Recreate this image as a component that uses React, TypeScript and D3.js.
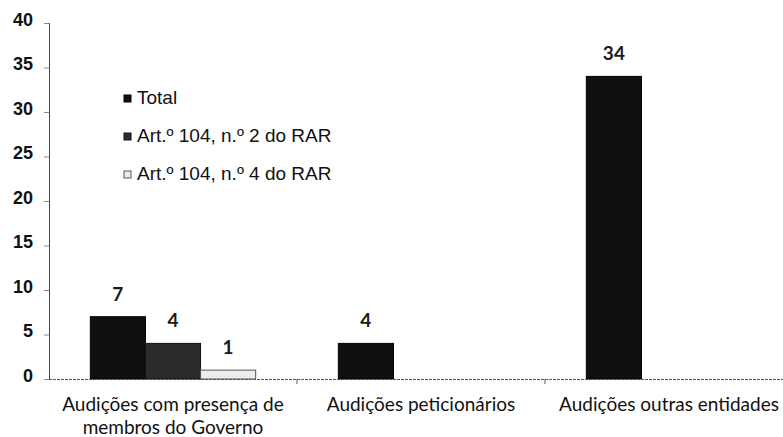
import React from 'react';
import * as d3 from 'd3';

const categories = [
  ['Audições com presença de', 'membros do Governo'],
  ['Audições peticionários'],
  ['Audições outras entidades'],
];
const seriesNames = ['Total', 'Art.º 104, n.º 2 do RAR', 'Art.º 104, n.º 4 do RAR'];
const totalValues = [7, 4, 34];
const art2Values = [4, null, null];
const art4Values = [1, null, null];
const yTicks = [0, 5, 10, 15, 20, 25, 30, 35, 40];

const seriesColors = ['#101010', '#2c2c2c', '#ececec'];
const seriesStrokes = ['#000', '#111', '#555'];

const width = 783;
const height = 437;

const App = () => {
  const catKeys = categories.map((c) => c.join(' '));
  const values = [totalValues, art2Values, art4Values];

  const y = d3.scaleLinear().domain([0, 40]).range([379, 23]);
  const x0 = d3.scaleBand().domain(catKeys).range([49, 793]).paddingInner(1 / 3).paddingOuter(1 / 6);
  const x1 = d3.scaleBand().domain(seriesNames).range([0, x0.bandwidth()]);
  const step = x0.step();

  const bars = [];
  catKeys.forEach((cat, ci) => {
    seriesNames.forEach((s, si) => {
      const v = values[si][ci];
      if (v == null) return;
      bars.push({ cat, s, si, v, x: x0(cat) + x1(s) });
    });
  });

  return (
    <svg width={width} height={height} style={{ position: 'absolute', left: 0, top: 0, background: '#fff' }}>
      {/* y axis */}
      <line x1={49.5} x2={49.5} y1={y(40)} y2={y(0)} stroke="#444" strokeWidth={1} />
      {yTicks.map((t) => (
        <g key={t}>
          <line x1={44} x2={49.5} y1={y(t) + 0.5} y2={y(t) + 0.5} stroke="#888" strokeWidth={1} />
          <text
            x={33}
            y={y(t) - 2}
            textAnchor="end"
            dominantBaseline="middle"
            fontFamily="'Liberation Sans', Arial, sans-serif"
            fontWeight="bold"
            fontSize={18}
            fill="#111"
          >
            {t}
          </text>
        </g>
      ))}

      {/* bars */}
      {bars.map((b) => (
        <g key={b.cat + b.s}>
          <rect
            x={b.x}
            y={y(b.v)}
            width={x1.bandwidth()}
            height={y(0) - y(b.v)}
            fill={seriesColors[b.si]}
            stroke={seriesStrokes[b.si]}
            strokeWidth={1}
          />
          <text
            x={b.x + x1.bandwidth() / 2}
            y={y(b.v) - 16}
            textAnchor="middle"
            fontFamily="Lato, 'Open Sans', sans-serif"
            fontWeight="bold"
            fontSize={19}
            fill="#1a1a1a"
          >
            {b.v}
          </text>
        </g>
      ))}

      {/* x axis */}
      <line x1={49} x2={width} y1={y(0) + 0.5} y2={y(0) + 0.5} stroke="#555" strokeWidth={1} strokeDasharray="3,1" />
      {[1, 2].map((i) => (
        <line key={i} x1={49 + i * step} x2={49 + i * step} y1={y(0)} y2={y(0) + 5} stroke="#555" />
      ))}
      {categories.map((lines, ci) => (
        <text
          key={ci}
          textAnchor="middle"
          fontFamily="Lato, 'Open Sans', sans-serif"
          fontSize={19}
          fill="#111"
        >
          {lines.map((l, li) => (
            <tspan key={li} x={x0(catKeys[ci]) + x0.bandwidth() / 2} y={411 + li * 23}>
              {l}
            </tspan>
          ))}
        </text>
      ))}

      {/* legend */}
      {seriesNames.map((s, i) => (
        <g key={s} transform={`translate(124, ${99 + i * 38})`}>
          <rect x={0} y={-4} width={7} height={7} fill={seriesColors[i]} stroke={seriesStrokes[i]} />
          <text
            x={13}
            y={0}
            dominantBaseline="middle"
            fontFamily="'Liberation Sans', Arial, sans-serif"
            fontSize={19}
            fill="#111"
          >
            {s}
          </text>
        </g>
      ))}
    </svg>
  );
};

export default App;
